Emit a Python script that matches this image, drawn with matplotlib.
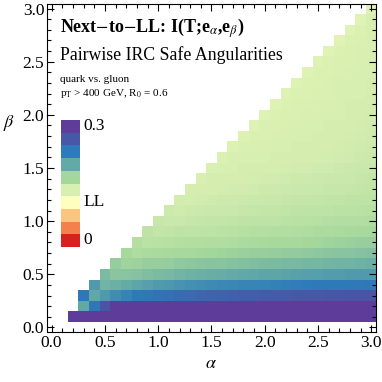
import numpy as np
import matplotlib
matplotlib.use("Agg")
import matplotlib.pyplot as plt
from matplotlib.colors import LinearSegmentedColormap, ListedColormap, Normalize

plt.rcParams['font.family'] = ['Liberation Serif', 'DejaVu Serif']
plt.rcParams['mathtext.fontset'] = 'stix'

# grid of the angularity exponents
alphas = [round(0.2 + 0.1 * i, 1) for i in range(29)]
betas = [round(0.1 + 0.1 * i, 1) for i in range(30)]
# first alpha drawn in each beta row
row_start = [0.2, 0.3, 0.3] + betas[3:]

# mutual information (x1000), each row from its first alpha up to alpha = 3.0
mi_rows = [
    "296 298 299 300 300 300 300 300 300 300 300 300 300 300 300 300 300 300 300 300 300 300 300 300 300 300 300 300 300",
    "195 228 258 284 287 288 289 290 290 290 290 290 290 290 290 290 290 290 290 290 290 290 290 290 290 290 290 290",
    "228 196 206 214 220 225 228 231 234 237 240 243 245 247 249 250 251 252 253 254 255 256 256 257 257 258 258 258",
    "205 188 190 194 198 201 204 207 209 211 213 215 216 217 218 219 220 221 222 223 224 225 226 226 227 227 228",
    "183 176 177 179 181 183 185 187 189 190 192 193 194 195 196 197 198 199 200 201 202 203 203 204 204 205",
    "172 167 168 170 171 172 174 175 176 177 178 179 180 181 182 183 184 185 186 186 187 188 188 189 190",
    "163 159 160 161 162 163 164 165 166 167 168 169 170 171 172 173 173 174 175 176 177 178 179 180",
    "155 152 153 154 155 156 157 158 158 159 160 161 162 163 163 164 165 166 167 168 169 170 171",
    "149 147 148 149 150 151 151 152 153 154 155 155 156 157 158 159 160 160 161 162 163 164",
    "145 143 144 145 146 147 147 148 149 150 150 151 152 153 153 154 155 156 156 157 158",
    "141 140 141 142 143 144 144 145 146 147 147 148 149 150 150 151 152 152 153 154",
    "138 138 139 140 141 141 142 143 144 144 145 146 146 147 148 148 149 150 151",
    "136 137 137 138 139 139 140 141 141 142 143 143 144 145 145 146 147 148",
    "134 136 136 137 137 138 139 139 140 141 141 142 143 143 144 145 146",
    "133 135 135 136 136 137 137 138 139 139 140 140 141 142 143 144",
    "132 134 134 135 135 136 136 137 137 138 138 139 140 141 142",
    "131 133 134 134 135 135 136 136 137 137 138 139 140 141",
    "131 133 133 134 134 135 135 136 136 137 138 139 140",
    "130 133 133 134 134 135 135 136 136 137 138 139",
    "130 132 133 133 134 134 135 135 136 137 138",
    "130 132 133 133 134 134 135 136 136 137",
    "129 132 132 133 133 134 135 135 136",
    "129 132 132 133 134 134 135 136",
    "129 132 132 133 134 135 135",
    "129 132 133 133 134 135",
    "128 132 133 134 134",
    "128 132 133 134",
    "128 132 134",
    "128 134",
    "128",
]

# colour boxes of the legend, bottom (0) to top (0.3)
box_colors = ['#d8201e', '#f3814d', '#fdc47f', '#fefebe', '#d7efb1',
              '#a4d79b', '#62a9a7', '#2d7bba', '#4858a6', '#5e3c99']
box_labels = {9: '0.3', 3: 'LL', 0: '0'}

# build the masked grid
Z = np.full((len(betas), len(alphas)), np.nan)
for i, row in enumerate(mi_rows):
    vals = [int(v) / 1000 for v in row.split()]
    j0 = alphas.index(row_start[i])
    Z[i, j0:j0 + len(vals)] = vals
Z = np.ma.masked_invalid(Z)

pos = [(k + 0.5) / 10 for k in range(10)]
cmap = LinearSegmentedColormap.from_list(
    "mi", list(zip([0] + pos + [1], [box_colors[0]] + box_colors + [box_colors[-1]])))
norm = Normalize(0, 0.3)

W = H = 382
fig = plt.figure(figsize=(W / 100, H / 100), dpi=100)
ax = fig.add_axes([47 / W, 1 - 332 / H, 329 / W, 328 / H])

a_edges = np.array([a - 0.05 for a in alphas] + [alphas[-1] + 0.05])
b_edges = np.array([b - 0.05 for b in betas] + [betas[-1] + 0.05])
ax.pcolormesh(a_edges, b_edges, Z, cmap=cmap, norm=norm, shading='flat')

ax.set_xlim(-0.043, 3.043)
ax.set_ylim(-0.043, 3.043)
ax.set_xticks(np.arange(0, 3.01, 0.5))
ax.set_yticks(np.arange(0, 3.01, 0.5))
ax.set_xticks(np.arange(0, 3.01, 0.1), minor=True)
ax.set_yticks(np.arange(0, 3.01, 0.1), minor=True)
ax.xaxis.set_major_formatter(plt.FormatStrFormatter('%.1f'))
ax.yaxis.set_major_formatter(plt.FormatStrFormatter('%.1f'))
ax.tick_params(which='both', direction='in', top=True, right=True, width=0.8, labelsize=12.5, pad=2)
ax.tick_params(which='major', length=5)
ax.tick_params(which='minor', length=3)
for s in ax.spines.values():
    s.set_linewidth(0.8)

def px(x, y):
    return x / W, 1 - y / H

fig.text(*px(211, 364), r'$\alpha$', fontsize=13, ha='center', va='center')
fig.text(*px(9, 123), r'$\beta$', fontsize=13, ha='center', va='center')

fig.text(*px(60, 28), r'Next$-$to$-$LL: I(T;e$_{\alpha}$,e$_{\beta}$)', fontsize=13,
         fontweight='bold', ha='left', va='center')
fig.text(*px(60, 55), 'Pairwise IRC Safe Angularities', fontsize=12.8, ha='left', va='center')
fig.text(*px(60, 80), 'quark vs. gluon', fontsize=8, ha='left', va='center')
fig.text(*px(60, 93), r'p$_{\rm T}$ > 400 GeV, R$_0$ = 0.6', fontsize=8, ha='left', va='center')

# legend boxes
cax = fig.add_axes([60.7 / W, 1 - 246.7 / H, 18.3 / W, 126.7 / H])
cax.imshow(np.arange(10)[:, None], cmap=ListedColormap(box_colors), origin='lower',
           aspect='auto', extent=(0, 1, 0, 10))
cax.set_axis_off()
for k, lab in box_labels.items():
    cax.text(1.25, k + 0.5, lab, fontsize=12.5, ha='left', va='center', transform=cax.transData)

fig.savefig('out.png', dpi=100)
